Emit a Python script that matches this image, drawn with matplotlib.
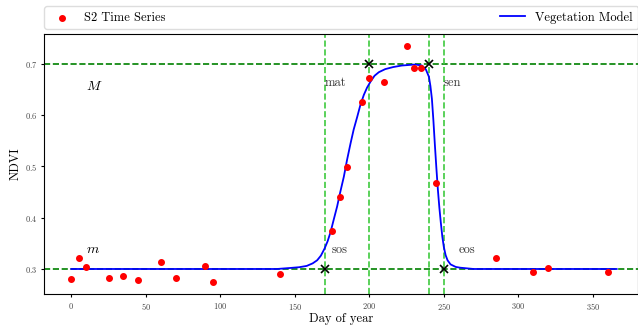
import numpy as np
import matplotlib
matplotlib.use("Agg")
import matplotlib.pyplot as plt

plt.rcParams['font.family'] = ['cmr10', 'DejaVu Sans']
plt.rcParams['mathtext.fontset'] = 'cm'
plt.rcParams['axes.formatter.use_mathtext'] = True

# S2 observations
obs_day = [0, 5, 10, 25, 35, 45, 60, 70, 90, 95, 140, 175, 180, 185, 195, 200,
           210, 225, 230, 235, 245, 285, 310, 320, 360]
obs_ndvi = [0.280, 0.322, 0.304, 0.282, 0.286, 0.279, 0.314, 0.282, 0.306, 0.275,
            0.290, 0.375, 0.441, 0.499, 0.625, 0.672, 0.664, 0.735, 0.692, 0.692,
            0.467, 0.321, 0.295, 0.301, 0.294]

# fitted model curve
model_day = [0, 138, 147, 153, 158, 162, 165, 167.5, 170, 172, 174, 176, 178.4,
             180.5, 182.9, 185, 187.4, 189.5, 191.9, 194, 196.3, 198.5, 200.8,
             203.5, 206.4, 210.7, 216, 221.8, 230.8, 235.3, 238, 240, 241, 242,
             243, 244, 245, 246, 247, 248, 249, 250, 251.2, 252.5, 254.5, 258,
             261, 270, 366]
model_ndvi = [0.300, 0.300, 0.302, 0.3035, 0.306, 0.311, 0.317, 0.326, 0.340,
              0.354, 0.372, 0.395, 0.422, 0.450, 0.480, 0.512, 0.545, 0.572,
              0.597, 0.620, 0.6395, 0.654, 0.6655, 0.677, 0.684, 0.690, 0.694,
              0.697, 0.699, 0.697, 0.689, 0.675, 0.657, 0.632, 0.590, 0.542,
              0.497, 0.455, 0.420, 0.390, 0.363, 0.343, 0.327, 0.317, 0.309,
              0.304, 0.3025, 0.300, 0.300]

# phenology metrics
m_val, M_val = 0.3, 0.7
sos, mat, sen, eos = 170, 200, 240, 250

fig = plt.figure(figsize=(6.38, 3.25), dpi=100)
ax = fig.add_axes([44/638, 31/325, (638-44)/638, (294-34)/325])

ax.axhline(M_val, color='green', ls='--', lw=1.2, zorder=1)
ax.axhline(m_val, color='green', ls='--', lw=1.2, zorder=1)
for d in [sos, mat, sen, eos]:
    ax.axvline(d, color='#3ec93e', ls='--', lw=1.2, zorder=1)

ax.scatter(obs_day, obs_ndvi, s=16, color='red', zorder=3, label='S2 Time Series')
ax.plot(model_day, model_ndvi, color='blue', lw=1.3, zorder=2, label='Vegetation Model')

ax.plot([sos, mat, sen, eos], [m_val, M_val, M_val, m_val], 'x', color='black',
        ms=5.5, mew=1.2, zorder=4)

ax.text(10, 0.65, r'$M$', fontsize=10)
ax.text(10, 0.331, r'$m$', fontsize=10)
ax.text(sos, 0.657, 'mat', fontsize=9, color='#333333')
ax.text(eos, 0.657, 'sen', fontsize=9, color='#333333')
ax.text(sos + 5, 0.332, 'sos', fontsize=9, color='#333333')
ax.text(eos + 10, 0.332, 'eos', fontsize=9, color='#333333')

ax.set_xlim(-18.3, 380.3)
ax.set_ylim(0.2512, 0.7585)
ax.set_xticks([0, 50, 100, 150, 200, 250, 300, 350])
ax.set_yticks([0.3, 0.4, 0.5, 0.6, 0.7])
ax.tick_params(labelsize=6, labelcolor='#444444', length=2.5, width=0.8, pad=2.5)
ax.set_xlabel('Day of year', fontsize=9, labelpad=1)
ax.set_ylabel('NDVI', fontsize=9, labelpad=2)

ax.legend(bbox_to_anchor=(0, 1.02, 1, 0.1), loc='lower left', mode='expand',
          ncol=2, fontsize=9, borderaxespad=0, framealpha=1, edgecolor='#dddddd')

fig.savefig('out.png', dpi=100)
